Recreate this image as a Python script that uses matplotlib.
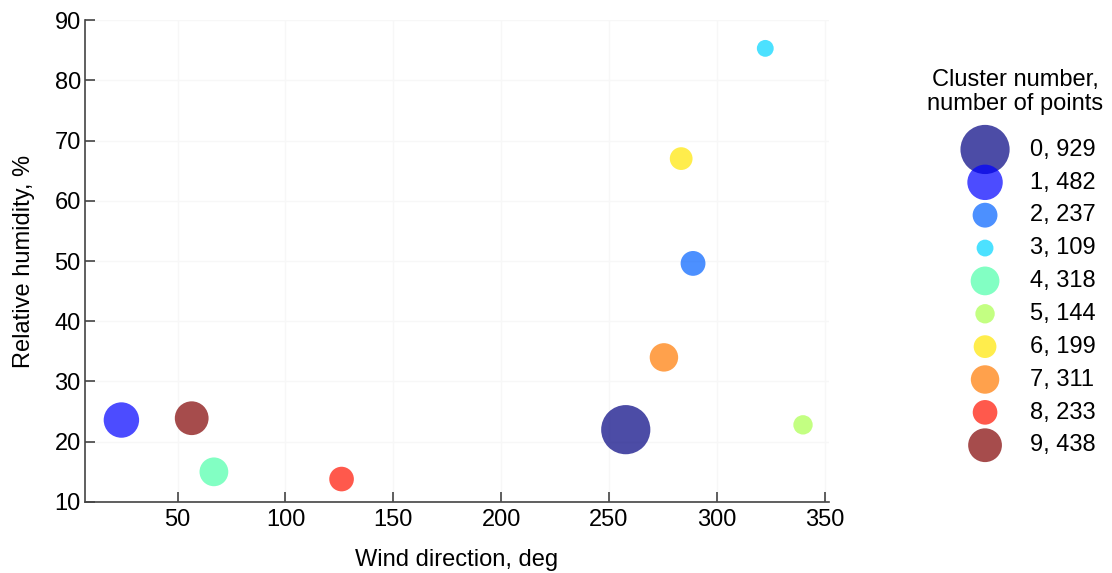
import matplotlib
matplotlib.use("Agg")
import matplotlib.pyplot as plt
import numpy as np

plt.rcParams['font.family'] = ['Liberation Sans', 'DejaVu Sans']

clusters = [0, 1, 2, 3, 4, 5, 6, 7, 8, 9]
n_points = [929, 482, 237, 109, 318, 144, 199, 311, 233, 438]
wind_dir = [257.8, 23.9, 289.0, 322.5, 66.8, 340.0, 283.5, 275.5, 126.0, 56.5]
humidity = [22.0, 23.6, 49.6, 85.3, 15.0, 22.8, 67.0, 34.0, 13.8, 23.9]

fig = plt.figure(figsize=(11.12, 5.73), dpi=100)
ax = fig.add_axes([0.0764, 0.124, 0.669, 0.841])

cmap = plt.get_cmap('jet')
handles = []
for c, n, x, y in zip(clusters, n_points, wind_dir, humidity):
    col = cmap(c / 9)
    h = ax.scatter([x], [y], s=n * 1.35, color=col, alpha=0.7, edgecolors='none',
                   label=f"{c}, {n}", zorder=3)
    handles.append(h)

ax.set_xlim(7, 352)
ax.set_ylim(10, 90)
ax.set_xticks([50, 100, 150, 200, 250, 300, 350])
ax.set_yticks([10, 20, 30, 40, 50, 60, 70, 80, 90])
ax.grid(True, color='#f7f7f7', linewidth=1.0, zorder=0)
for s in ['top', 'right']:
    ax.spines[s].set_visible(False)
for s in ['left', 'bottom']:
    ax.spines[s].set_color('#444444')
    ax.spines[s].set_linewidth(1.2)
ax.tick_params(direction='in', length=7, width=1.2, color='#444444', labelsize=17)
ax.tick_params(axis='y', pad=3)
ax.tick_params(axis='x', pad=5)
ax.set_xlabel('Wind direction, deg', fontsize=17, labelpad=13)
ax.set_ylabel('Relative humidity, %', fontsize=17, labelpad=14)

leg = fig.legend(handles=handles, loc='upper left', bbox_to_anchor=(0.8646, 0.758),
                 frameon=False, fontsize=17, labelspacing=0.46, handletextpad=0.91,
                 handlelength=2.0, scatterpoints=1, borderaxespad=0, borderpad=0)

fig.text(0.913, 0.84, 'Cluster number,\nnumber of points', fontsize=17,
         ha='center', va='center', linespacing=1.1)

fig.savefig('out.png', dpi=100)
